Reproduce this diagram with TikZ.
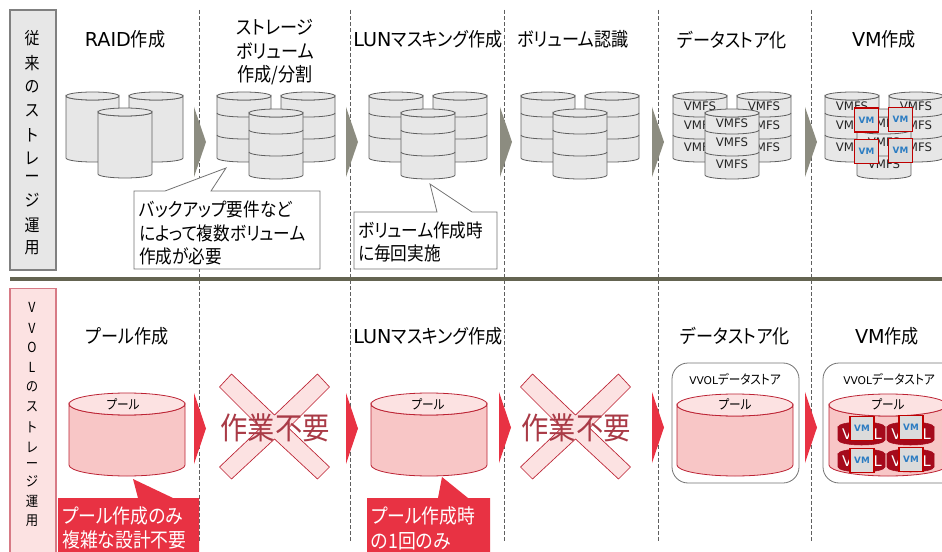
\documentclass[tikz,border=0pt]{standalone}
\usepackage{fontspec}
\setmainfont[RawFeature=+palt,FakeStretch=0.89]{Noto Sans CJK JP}
\newfontfamily\vmfont{DejaVu Sans}
\usetikzlibrary{arrows.meta}
\definecolor{grayfill}{HTML}{E7E7E7}
\definecolor{grayline}{HTML}{5F5F5F}
\definecolor{grayarrow}{HTML}{8C8C80}
\definecolor{pinkfill}{HTML}{F8C6C6}
\definecolor{pinklight}{HTML}{FCE2E2}
\definecolor{redline}{HTML}{BC2233}
\definecolor{redfill}{HTML}{E83243}
\definecolor{darkred}{HTML}{A50A1C}
\definecolor{vmblue}{HTML}{2B7CC2}
\definecolor{nogood}{HTML}{A93A46}
\tikzset{
  titlelabel/.style={font=\fontsize{14.4}{16}\selectfont},
  sidelabel/.style={font=\fontsize{12.6}{14}\selectfont,inner sep=0pt},
  calloutlabel/.style={font=\fontsize{14}{16}\selectfont,inner sep=0pt,anchor=west},
  redlabel/.style={font=\fontsize{15}{17}\selectfont,inner sep=0pt,anchor=west,text=white},
  vmfslabel/.style={font=\fontsize{8.8}{10}\selectfont\vmfont,inner sep=0pt,text=black!85},
  poollabel/.style={font=\fontsize{9.8}{11}\selectfont,inner sep=0pt},
  graydrum/.style={draw=grayline,fill=grayfill,line width=.6pt},
  pinkdrum/.style={draw=redline,fill=pinkfill,line width=.6pt},
  pinktop/.style={draw=redline,fill=pinklight,line width=.6pt},
  vvoldrum/.style={draw=darkred,fill=darkred},
  vmbox/.style={draw=red!75!black,line width=1.1pt,fill=gray!28,minimum size=18pt,inner sep=0pt,
    text=vmblue,font=\fontsize{6.6}{8}\selectfont\vmfont\bfseries},
  nextgray/.style={fill=grayarrow},
  nextred/.style={fill=redfill},
  stepline/.style={draw=grayline,dash pattern=on 3pt off 1.6pt,line width=.5pt},
  nowork/.style={font=\fontsize{23}{26}\selectfont,inner sep=0pt,text=nogood},
}
\newcommand{\drum}[7]{%
  \pgfmathsetmacro{\rxx}{((#4)-(#2))/2}
  \path[#1] (#2,#3+#6) -- (#2,#5-#6) arc[start angle=180,end angle=0,x radius=\rxx,y radius=#6]
    -- (#4,#3+#6) arc[start angle=0,end angle=180,x radius=\rxx,y radius=#6] -- cycle;
  \path[#7] (#2+\rxx,#3+#6) ellipse[x radius=\rxx,y radius=#6];
}
\newcommand{\stackdrum}[2]{%
  \drum{graydrum}{#1}{#2}{#1+54}{#2+70}{4}{graydrum}
  \draw[graydrum,fill=none] (#1,#2+21) arc[start angle=180,end angle=0,x radius=27,y radius=4];
  \draw[graydrum,fill=none] (#1,#2+43) arc[start angle=180,end angle=0,x radius=27,y radius=4];
}
\newcommand{\vmfsrows}[3]{%
  \node[vmfslabel] (#1a) at (#2,#3) {VMFS};
  \node[vmfslabel] (#1b) at (#2,#3+19.5) {VMFS};
  \node[vmfslabel] (#1c) at (#2,#3+41) {VMFS};
}
\newcommand{\crossmark}[2]{%
  \draw[draw=redline,fill=pinklight,line width=.5pt,shift={(#1,#2)}]
    (-43,-54) -- (0,-13) -- (43,-54) -- (55,-41) -- (14,0) -- (55,39) -- (43,51) -- (0,11)
    -- (-43,51) -- (-55,39) -- (-14,0) -- (-55,-41) -- cycle;
}
\begin{document}
\begin{tikzpicture}[x=.75pt,y=-.75pt]
\clip (0,0) rectangle (942,552);

\foreach \n/\x in {a/199.5,b/350.5,c/504,d/658,e/811}{
  \coordinate (top\n) at (\x,10);
  \coordinate (bot\n) at (\x,543);
  \draw[stepline] (top\n) -- (bot\n);
}

\node[draw=gray,fill=grayfill,minimum width=34.5pt,minimum height=195pt,inner sep=0pt,line width=.8pt] (oldbox) at (33,140) {};
\foreach \n/\t/\y in {1/従/38,2/来/63,3/の/87,4/ス/111,5/ト/135,6/レ/158,7/ー/179,8/ジ/200,9/運/225,10/用/248}
  \node[sidelabel] (old\n) at (32,\y) {\t};

\node[draw=redline!60,fill=pinklight,minimum width=34.5pt,minimum height=215pt,inner sep=0pt,line width=.8pt] (newbox) at (33,432) {};
\foreach \n/\t/\y in {1/V/307,2/V/328,3/O/347,4/L/367,5/の/387,6/ス/407,7/ト/427,8/レ/447,9/ー/465,10/ジ/481,11/運/501,12/用/521}
  \node[sidelabel,font=\fontsize{10.4}{12}\selectfont] (new\n) at (32,\y) {\t};

\coordinate (sepleft) at (10,279);
\coordinate (sepright) at (942,279);
\draw[grayline!85!olive,line width=2.3pt] (sepleft) -- (sepright);

\node[titlelabel] (raid) at (125,39) {{\vmfont RAID}作成};
\node[titlelabel] (vol1) at (275,27) {ストレージ};
\node[titlelabel] (vol2) at (275,51) {ボリューム};
\node[titlelabel] (vol3) at (275,75) {作成/分割};
\node[titlelabel] (lun) at (428,39) {{\vmfont LUN}マスキング作成};
\node[titlelabel] (recog) at (573,39) {ボリューム認識};
\node[titlelabel] (ds) at (732,40) {データストア化};
\node[titlelabel] (vm) at (884,39) {{\vmfont VM}作成};

\drum{graydrum}{66}{92}{119}{162}{4}{graydrum}
\drum{graydrum}{129}{92}{183}{162}{4}{graydrum}
\drum{graydrum}{98}{108}{152}{178}{4}{graydrum}

\foreach \x in {217,369,521}{
  \stackdrum{\x}{92}
  \stackdrum{\x+64}{92}
  \stackdrum{\x+32}{109}
}

\stackdrum{673}{92}
\stackdrum{737}{92}
\vmfsrows{fa}{700}{106}
\vmfsrows{fb}{764}{106}
\stackdrum{705}{109}
\vmfsrows{fc}{732}{123}

\stackdrum{825}{92}
\stackdrum{889}{92}
\vmfsrows{ga}{852}{106}
\vmfsrows{gb}{916}{106}
\stackdrum{857}{109}
\vmfsrows{gc}{884}{123}
\node[vmbox] (vma) at (866.5,120) {VM};
\node[vmbox] (vmb) at (900.5,119.5) {VM};
\node[vmbox] (vmc) at (866.5,151.5) {VM};
\node[vmbox] (vmd) at (900.5,150.5) {VM};

\foreach \x in {194,346,500,652,805}
  \path[nextgray] (\x,107) -- (\x+12,142) -- (\x,177) -- cycle;

\draw[draw=gray!90!black,fill=white,line width=.6pt]
  (134,191) -- (165,191) -- (226,168) -- (211,191) -- (320,191) -- (320,269) -- (134,269) -- cycle;
\node[calloutlabel] (notea1) at (139,209) {バックアップ要件など};
\node[calloutlabel] (notea2) at (139,233) {によって複数ボリューム};
\node[calloutlabel] (notea3) at (139,256) {作成が必要};

\draw[draw=gray!90!black,fill=white,line width=.6pt]
  (354,212) -- (437,212) -- (430,184) -- (472,212) -- (497,212) -- (497,269) -- (354,269) -- cycle;
\node[calloutlabel] (noteb1) at (358,230) {ボリューム作成時};
\node[calloutlabel] (noteb2) at (358,253) {に毎回実施};

\node[titlelabel] (pool) at (127,336) {プール作成};
\node[titlelabel] (lunb) at (428,336) {{\vmfont LUN}マスキング作成};
\node[titlelabel] (dsb) at (735,336) {データストア化};
\node[titlelabel] (vmt) at (887,336) {{\vmfont VM}作成};

\drum{pinkdrum}{69}{393}{185}{476}{11}{pinktop}
\node[poollabel] (poola) at (123,404) {プール};
\drum{pinkdrum}{371}{393}{487}{476}{11}{pinktop}
\node[poollabel] (poolb) at (428,404) {プール};

\foreach \x/\y in {194/393,346/393,499/392,652/392,805/392}
  \path[nextred] (\x,\y) -- (\x+12,\y+35.5) -- (\x,\y+71) -- cycle;

\crossmark{274.5}{428}
\node[nowork] (noa) at (275,428) {作業不要};
\crossmark{575.5}{428}
\node[nowork] (nob) at (576,428) {作業不要};

\path[fill=redfill] (58,498) -- (138,498) -- (133,479) -- (173,498) -- (199,498) -- (199,552) -- (58,552) -- cycle;
\node[redlabel] (notec1) at (62,516) {プール作成のみ};
\node[redlabel] (notec2) at (62,540) {複雑な設計不要};

\path[fill=redfill] (367,498) -- (438,498) -- (442,477) -- (468,498) -- (490,498) -- (490,552) -- (367,552) -- cycle;
\node[redlabel] (noted1) at (371,516) {プール作成時};
\node[redlabel] (noted2) at (371,541) {の1回のみ};

\draw[gray!90!black,fill=white,line width=.6pt,rounded corners=12pt] (672,363) rectangle (799,483);
\node[poollabel] (vvola) at (735,379) {{\vmfont\fontsize{8}{10}\selectfont VVOL}データストア};
\drum{pinkdrum}{677}{394}{793}{476}{11}{pinktop}
\node[poollabel] (poolc) at (735,404) {プール};

\draw[gray!90!black,fill=white,line width=.6pt,rounded corners=12pt] (823,363) rectangle (960,483);
\node[poollabel] (vvolb) at (889,379) {{\vmfont\fontsize{8}{10}\selectfont VVOL}データストア};
\drum{pinkdrum}{829}{394}{947}{476}{11}{pinktop}
\node[poollabel] (poold) at (888,404) {プール};

\foreach \n/\x/\y in {a/838/422,b/887/422,c/838/449,d/887/449}{
  \drum{vvoldrum}{\x}{\y}{\x+47}{\y+23}{5}{vvoldrum}
  \node[vmfslabel,text=white,font=\fontsize{11}{13}\selectfont\vmfont] (vvol\n) at (\x+24,\y+12) {VVOL};
}
\node[vmbox] (vme) at (862,428.5) {VM};
\node[vmbox] (vmf) at (911,427.5) {VM};
\node[vmbox] (vmg) at (862,460.5) {VM};
\node[vmbox] (vmh) at (911,459.5) {VM};
\end{tikzpicture}
\end{document}
